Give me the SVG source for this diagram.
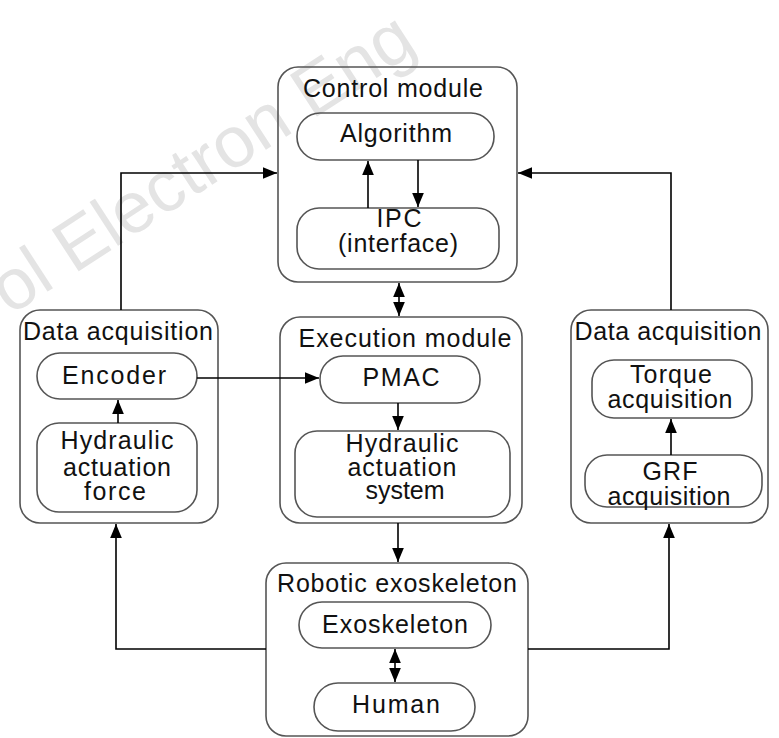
<svg xmlns="http://www.w3.org/2000/svg" width="779" height="738" viewBox="0 0 779 738">
<style>
.box{fill:none;stroke:#555;stroke-width:1.6}
.t{font-family:"Liberation Sans",Arial,sans-serif;font-size:25px;fill:#111;text-anchor:middle}
.c{fill:none;stroke:#000;stroke-width:1.6}
.wm{font-family:"Liberation Sans",Arial,sans-serif;font-size:72px;fill:#e4e4e4}
</style>
<defs>
<marker id="ah" markerUnits="userSpaceOnUse" markerWidth="14" markerHeight="12" refX="12" refY="5" orient="auto-start-reverse" viewBox="0 0 12 10">
<path d="M0,0 L12,5 L0,10 Z" fill="#000"/>
</marker>
</defs>
<rect width="779" height="738" fill="#fff"/>
<text class="wm" transform="translate(10,316) rotate(-33)">ol Electron Eng</text>

<g id="control">
<rect class="box" x="278" y="67" width="239" height="215" rx="20"/>
<text class="t" x="393" y="97" textLength="180">Control module</text>
</g>
<g id="algorithm">
<rect class="box" x="297" y="113" width="197" height="47" rx="23"/>
<text class="t" x="396" y="142" textLength="112">Algorithm</text>
</g>
<g id="ipc">
<rect class="box" x="297" y="208" width="202" height="61" rx="22"/>
<text class="t" x="399" y="227" textLength="45">IPC</text>
<text class="t" x="398" y="252" textLength="120">(interface)</text>
</g>

<g id="da-left">
<rect class="box" x="20" y="310" width="198" height="213" rx="20"/>
<text class="t" x="118" y="340" textLength="190">Data acquisition</text>
</g>
<g id="encoder">
<rect class="box" x="37" y="353" width="160" height="46" rx="23"/>
<text class="t" x="114" y="384" textLength="104">Encoder</text>
</g>
<g id="hyd-force">
<rect class="box" x="37" y="423" width="160" height="89" rx="22"/>
<text class="t" x="117" y="449" textLength="113">Hydraulic</text>
<text class="t" x="117" y="476" textLength="108">actuation</text>
<text class="t" x="115" y="500" textLength="62">force</text>
</g>

<g id="execution">
<rect class="box" x="280" y="317" width="242" height="206" rx="20"/>
<text class="t" x="405" y="347" textLength="213">Execution module</text>
</g>
<g id="pmac">
<rect class="box" x="320" y="356" width="160" height="47" rx="23"/>
<text class="t" x="401" y="386" textLength="77">PMAC</text>
</g>
<g id="hyd-sys">
<rect class="box" x="295" y="431" width="215" height="86" rx="22"/>
<text class="t" x="402" y="452" textLength="113">Hydraulic</text>
<text class="t" x="402" y="476" textLength="109">actuation</text>
<text class="t" x="405" y="499">system</text>
</g>

<g id="da-right">
<rect class="box" x="571" y="310" width="197" height="213" rx="20"/>
<text class="t" x="668" y="340" textLength="187">Data acquisition</text>
</g>
<g id="torque">
<rect class="box" x="592" y="360" width="160" height="58" rx="22"/>
<text class="t" x="671" y="383" textLength="82">Torque</text>
<text class="t" x="670" y="408" textLength="125">acquisition</text>
</g>
<g id="grf">
<rect class="box" x="585" y="455" width="177" height="52" rx="22"/>
<text class="t" x="670" y="480" textLength="55">GRF</text>
<text class="t" x="669" y="505" textLength="123">acquisition</text>
</g>

<g id="robotic">
<rect class="box" x="266" y="563" width="262" height="173" rx="20"/>
<text class="t" x="397" y="592" textLength="240">Robotic exoskeleton</text>
</g>
<g id="exoskeleton">
<rect class="box" x="299" y="602" width="192" height="46" rx="23"/>
<text class="t" x="395" y="633" textLength="146">Exoskeleton</text>
</g>
<g id="human">
<rect class="box" x="314" y="683" width="161" height="48" rx="24"/>
<text class="t" x="396" y="713" textLength="88">Human</text>
</g>

<g id="connectors">
<path class="c" d="M121,310 V173 H277" marker-end="url(#ah)"/>
<path class="c" d="M671,310 V173 H518" marker-end="url(#ah)"/>
<path class="c" d="M368,208 V161" marker-end="url(#ah)"/>
<path class="c" d="M418,160 V207" marker-end="url(#ah)"/>
<path class="c" d="M399,283 V316" marker-start="url(#ah)" marker-end="url(#ah)"/>
<path class="c" d="M197,378 H319" marker-end="url(#ah)"/>
<path class="c" d="M118,423 V400" marker-end="url(#ah)"/>
<path class="c" d="M398,403 V430" marker-end="url(#ah)"/>
<path class="c" d="M671,455 V419" marker-end="url(#ah)"/>
<path class="c" d="M398,523 V562" marker-end="url(#ah)"/>
<path class="c" d="M266,649 H116 V524" marker-end="url(#ah)"/>
<path class="c" d="M528,649 H669 V524" marker-end="url(#ah)"/>
<path class="c" d="M395,649 V682" marker-start="url(#ah)" marker-end="url(#ah)"/>
</g>
</svg>
